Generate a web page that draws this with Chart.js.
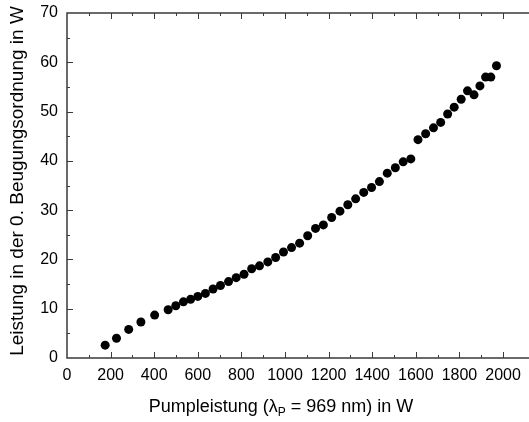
<!DOCTYPE html>
<html>
<head>
<meta charset="utf-8">
<script src="https://cdn.jsdelivr.net/npm/chart.js@4.4.1/dist/chart.umd.min.js"></script>
<style>
  html, body { margin: 0; padding: 0; background: #fff; overflow: hidden; }
  #wrap { width: 529px; height: 422px; position: relative; }
</style>
</head>
<body>
<div id="wrap"><canvas id="powerChart"></canvas></div>
<script>
// Pumpleistung (W) and diffracted power in 0th order (W)
const pumpPower = [175, 227, 283, 339, 402, 464, 499, 534, 567, 600, 635, 670, 704, 741, 776, 812, 847, 883, 921, 957, 993, 1030, 1067, 1104, 1140, 1176, 1214, 1252, 1288, 1324, 1361, 1397, 1433, 1469, 1506, 1542, 1577, 1610, 1645, 1681, 1714, 1746, 1776, 1808, 1837, 1867, 1894, 1920, 1944, 1970];
const orderPower = [2.6, 4.0, 5.8, 7.3, 8.7, 9.8, 10.6, 11.4, 11.9, 12.5, 13.1, 14.0, 14.7, 15.5, 16.3, 17.0, 18.1, 18.7, 19.5, 20.4, 21.5, 22.4, 23.3, 24.8, 26.3, 27.0, 28.5, 29.8, 31.1, 32.3, 33.6, 34.6, 35.8, 37.5, 38.6, 39.8, 40.4, 44.3, 45.5, 46.7, 47.8, 49.5, 50.9, 52.5, 54.2, 53.4, 55.2, 57.0, 57.0, 59.3];

const xMax = 2081;
const yMax = 70;
const FONT = "'Liberation Sans', Arial, sans-serif";

// frame on left/bottom/top with inward ticks, plus axis titles
const framePlugin = {
    id: 'frame',
    afterDraw(chart) {
        const ctx = chart.ctx;
        const a = chart.chartArea;
        const xs = chart.scales.x;
        const ys = chart.scales.y;
        ctx.save();
        ctx.strokeStyle = '#3a3a3a';
        ctx.lineWidth = 1.5;
        ctx.beginPath();
        ctx.moveTo(chart.width, a.top);
        ctx.lineTo(a.left, a.top);
        ctx.lineTo(a.left, a.bottom);
        ctx.lineTo(chart.width, a.bottom);
        ctx.stroke();

        ctx.lineWidth = 1;
        ctx.beginPath();
        for (let v = 100; v <= xMax; v += 100) {
            const px = Math.round(xs.getPixelForValue(v)) + 0.5;
            const len = v % 200 === 0 ? 6 : 3;
            ctx.moveTo(px, a.bottom);
            ctx.lineTo(px, a.bottom - len);
            ctx.moveTo(px, a.top);
            ctx.lineTo(px, a.top + len);
        }
        for (let v = 5; v < yMax; v += 5) {
            const py = Math.round(ys.getPixelForValue(v)) + 0.5;
            const len = v % 10 === 0 ? 6 : 3;
            ctx.moveTo(a.left, py);
            ctx.lineTo(a.left + len, py);
        }
        ctx.stroke();

        // x title with subscript
        ctx.fillStyle = '#000';
        ctx.textBaseline = 'alphabetic';
        const big = '18px ' + FONT;
        const small = '12px ' + FONT;
        const parts = [['Pumpleistung (\u03bb', big, 0], ['P', small, 4], [' = 969 nm) in W', big, 0]];
        let total = 0;
        parts.forEach(p => { ctx.font = p[1]; total += ctx.measureText(p[0]).width; });
        let x = 281 - total / 2;
        const base = 412;
        parts.forEach(p => {
            ctx.font = p[1];
            ctx.fillText(p[0], x, base + p[2]);
            x += ctx.measureText(p[0]).width;
        });

        // y title
        ctx.translate(23, 181);
        ctx.rotate(-Math.PI / 2);
        ctx.font = '19px ' + FONT;
        ctx.textAlign = 'center';
        ctx.fillText('Leistung in der 0. Beugungsordnung in W', 0, 0);
        ctx.restore();
    }
};

const ctx = document.getElementById('powerChart').getContext('2d');

new Chart(ctx, {
    type: 'scatter',
    data: {
        datasets: [{
            data: pumpPower.map((p, i) => ({ x: p, y: orderPower[i] })),
            backgroundColor: '#000',
            borderWidth: 0,
            pointRadius: 4.5
        }]
    },
    options: {
        responsive: true,
        maintainAspectRatio: false,
        animation: false,
        layout: { padding: { top: 13, right: 0, left: 0, bottom: 0 } },
        plugins: {
            legend: { display: false },
            tooltip: { enabled: false }
        },
        scales: {
            x: {
                type: 'linear',
                min: 0,
                max: xMax,
                grid: { display: false, drawTicks: false },
                border: { display: false },
                ticks: {
                    stepSize: 200,
                    includeBounds: false,
                    maxRotation: 0,
                    autoSkip: false,
                    padding: 8,
                    color: '#000',
                    font: { family: FONT, size: 16 },
                    callback: v => String(v)
                },
                afterFit: s => { s.height = 64; }
            },
            y: {
                min: 0,
                max: yMax,
                grid: { display: false, drawTicks: false },
                border: { display: false },
                ticks: {
                    stepSize: 10,
                    padding: 9,
                    color: '#000',
                    font: { family: FONT, size: 16 },
                    callback: v => String(v)
                },
                afterFit: s => { s.width = 67; s.paddingTop = 0; s.paddingBottom = 0; }
            }
        }
    },
    plugins: [framePlugin]
});
</script>
</body>
</html>
